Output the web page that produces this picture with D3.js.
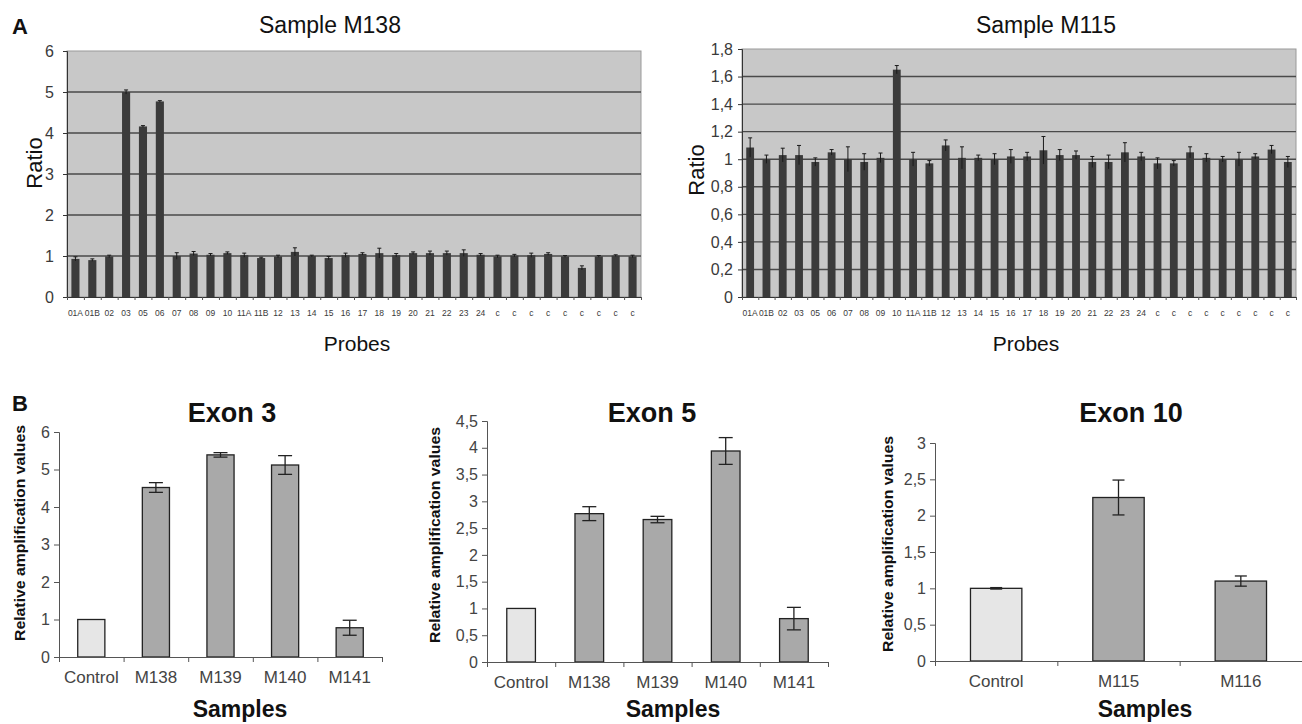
<!DOCTYPE html>
<html>
<head>
<meta charset="utf-8">
<script src="https://cdn.jsdelivr.net/npm/d3@7"></script>
<style>
  body { margin: 0; background: #fff; }
  svg { display: block; }
  text { font-family: "Liberation Sans", Arial, sans-serif; }
</style>
</head>
<body>
<div id="chart"></div>
<script>
// ---- data ----
var probes = ["01A","01B","02","03","05","06","07","08","09","10","11A","11B","12","13","14","15","16","17",
              "18","19","20","21","22","23","24","c","c","c","c","c","c","c","c","c"];

var m138Ratio = [0.93,0.90,0.99,5.00,4.16,4.77,1.00,1.06,1.03,1.07,1.02,0.95,0.99,1.10,1.00,0.95,1.02,1.05,
                 1.07,1.02,1.07,1.07,1.07,1.07,1.03,0.99,1.01,1.02,1.05,0.99,0.71,0.99,1.01,0.99];
var m138Err   = [0.05,0.03,0.03,0.05,0.02,0.02,0.08,0.05,0.03,0.03,0.05,0.02,0.03,0.10,0.02,0.04,0.05,0.03,
                 0.12,0.04,0.03,0.05,0.05,0.08,0.03,0.03,0.03,0.05,0.03,0.02,0.05,0.02,0.02,0.03];

var m115Ratio = [1.085,1.00,1.03,1.03,0.98,1.05,1.00,0.98,1.01,1.65,1.00,0.97,1.10,1.01,1.01,1.00,1.02,1.02,
                 1.065,1.03,1.03,0.98,0.98,1.05,1.02,0.97,0.97,1.05,1.01,1.00,1.00,1.02,1.07,0.98];
var m115Err   = [0.07,0.03,0.05,0.07,0.03,0.02,0.09,0.06,0.035,0.03,0.05,0.02,0.04,0.08,0.02,0.04,0.05,0.03,
                 0.10,0.04,0.03,0.04,0.05,0.07,0.03,0.04,0.02,0.04,0.03,0.02,0.05,0.02,0.03,0.04];

var exon3Samples = ["Control","M138","M139","M140","M141"];
var exon3Values  = [1.00, 4.52, 5.39, 5.12, 0.78];
var exon3Err     = [0, 0.13, 0.06, 0.25, 0.20];

var exon5Samples = ["Control","M138","M139","M140","M141"];
var exon5Values  = [1.00, 2.77, 2.66, 3.94, 0.81];
var exon5Err     = [0, 0.13, 0.06, 0.25, 0.21];

var exon10Samples = ["Control","M115","M116"];
var exon10Values  = [1.00, 2.25, 1.10];
var exon10Err     = [0.01, 0.24, 0.07];

var svg = d3.select("#chart").append("svg")
  .attr("width", 1302)
  .attr("height", 724);

var comma = function(d) { return String(d).replace(".", ","); };

// ---- panel A: probe ratio charts ----
function probeChart(o) {
  var g = svg.append("g");
  var n = o.values.length;

  var x = d3.scaleBand().domain(d3.range(n)).range([o.left, o.right]).paddingInner(0.52).paddingOuter(0.26);
  var xEdge = d3.scaleLinear().domain([0, n]).range([o.left, o.right]);
  var y = d3.scaleLinear().domain([0, o.yMax]).range([o.bottom, o.top]);

  // grey plot area
  g.append("rect")
    .attr("x", o.left).attr("y", o.top)
    .attr("width", o.right - o.left).attr("height", o.bottom - o.top)
    .attr("fill", "#c8c8c8").attr("stroke", "#9a9a9a").attr("stroke-width", 1);

  // gridlines
  g.selectAll(".grid").data(o.gridTicks).enter().append("line")
    .attr("x1", o.left).attr("x2", o.right)
    .attr("y1", d => y(d)).attr("y2", d => y(d))
    .attr("stroke", "#4a4a4a").attr("stroke-width", 1.4);

  // bars
  g.selectAll(".bar").data(o.values).enter().append("rect")
    .attr("x", (d, i) => x(i)).attr("width", x.bandwidth())
    .attr("y", d => y(d)).attr("height", d => y(0) - y(d))
    .attr("fill", "#3b3b3b");

  // error bars
  var cap = 2;
  o.values.forEach(function(v, i) {
    var cx = x(i) + x.bandwidth() / 2;
    var e = o.errs[i];
    g.append("line").attr("x1", cx).attr("x2", cx).attr("y1", y(v + e)).attr("y2", y(v - e))
      .attr("stroke", "#1a1a1a").attr("stroke-width", 1);
    g.append("line").attr("x1", cx - cap).attr("x2", cx + cap).attr("y1", y(v + e)).attr("y2", y(v + e))
      .attr("stroke", "#1a1a1a").attr("stroke-width", 1);
  });

  // y axis
  var yAxis = g.append("g").attr("transform", "translate(" + o.left + ",0)")
    .call(d3.axisLeft(y).tickValues(o.yTicks).tickFormat(comma).tickSize(4).tickPadding(o.tickPad));
  yAxis.select(".domain").attr("stroke", "#333");
  yAxis.selectAll(".tick line").attr("stroke", "#333");
  yAxis.selectAll("text").attr("font-size", o.tickFont).attr("fill", "#3a3a3a")
    .attr("font-family", o.tickFamily);

  // x axis: ticks at category boundaries, labels centered
  var xTicks = g.append("g").attr("transform", "translate(0," + o.bottom + ")")
    .call(d3.axisBottom(xEdge).tickValues(d3.range(n + 1)).tickFormat("").tickSize(3));
  xTicks.select(".domain").attr("stroke", "#333");
  xTicks.selectAll(".tick line").attr("stroke", "#555");

  var xLab = g.append("g").attr("transform", "translate(0," + o.bottom + ")")
    .call(d3.axisBottom(x).tickFormat(i => probes[i]).tickSize(0).tickPadding(13));
  xLab.select(".domain").remove();
  xLab.selectAll("text").attr("font-size", 8.5).attr("fill", "#3a3a3a");

  // titles
  g.append("text").attr("x", o.titleX).attr("y", 33).attr("text-anchor", "middle")
    .attr("font-size", 23).attr("fill", "#111").text(o.title);
  g.append("text").attr("x", o.probesX).attr("y", 351).attr("text-anchor", "middle")
    .attr("font-size", 21).attr("fill", "#111").text("Probes");
  g.append("text")
    .attr("transform", "translate(" + o.ratioX + "," + o.ratioY + ") rotate(-90)")
    .attr("text-anchor", "middle").attr("dy", "0.35em")
    .attr("font-size", 22).attr("fill", "#111").text("Ratio");
}

probeChart({
  values: m138Ratio, errs: m138Err, title: "Sample M138",
  left: 67, right: 641, top: 51, bottom: 297, yMax: 6,
  yTicks: [0,1,2,3,4,5,6], gridTicks: [1,2,3,4,5],
  tickFont: 16, tickPad: 9, tickFamily: "Liberation Sans, Arial, sans-serif",
  titleX: 330, probesX: 357, ratioX: 34, ratioY: 163
});

probeChart({
  values: m115Ratio, errs: m115Err, title: "Sample M115",
  left: 742, right: 1296, top: 49, bottom: 297, yMax: 1.8,
  yTicks: [0,0.2,0.4,0.6,0.8,1,1.2,1.4,1.6,1.8], gridTicks: [0.2,0.4,0.6,0.8,1,1.2,1.4,1.6],
  tickFont: 16, tickPad: 5, tickFamily: "Liberation Sans Narrow, Liberation Sans, Arial, sans-serif",
  titleX: 1046, probesX: 1026, ratioX: 696, ratioY: 170
});

svg.append("text").attr("x", 12).attr("y", 34).attr("font-size", 22).attr("font-weight", "bold")
  .attr("fill", "#111").text("A");

// ---- panel B: exon amplification charts ----
function exonChart(o) {
  var g = svg.append("g");

  var x = d3.scaleBand().domain(o.samples).range([o.left, o.right]).paddingInner(0.58).paddingOuter(0.29);
  var xEdge = d3.scaleLinear().domain([0, o.samples.length]).range([o.left, o.right]);
  var y = d3.scaleLinear().domain([0, o.yMax]).range([o.bottom, o.top]);

  g.selectAll(".bar").data(o.values).enter().append("rect")
    .attr("x", (d, i) => x(o.samples[i])).attr("width", x.bandwidth())
    .attr("y", d => y(d)).attr("height", d => y(0) - y(d))
    .attr("fill", (d, i) => i === 0 ? "#e6e6e6" : "#a9a9a9")
    .attr("stroke", "#222").attr("stroke-width", 1.3);

  o.values.forEach(function(v, i) {
    var e = o.errs[i];
    if (!e) return;
    var cx = x(o.samples[i]) + x.bandwidth() / 2;
    g.append("line").attr("x1", cx).attr("x2", cx).attr("y1", y(v + e)).attr("y2", y(v - e))
      .attr("stroke", "#222").attr("stroke-width", 1.3);
    [v + e, v - e].forEach(function(t) {
      g.append("line").attr("x1", cx - o.cap).attr("x2", cx + o.cap).attr("y1", y(t)).attr("y2", y(t))
        .attr("stroke", "#222").attr("stroke-width", 1.3);
    });
  });

  var yAxis = g.append("g").attr("transform", "translate(" + o.left + ",0)")
    .call(d3.axisLeft(y).tickValues(o.yTicks).tickFormat(comma).tickSize(5).tickPadding(4));
  yAxis.select(".domain").attr("stroke", "#555");
  yAxis.selectAll(".tick line").attr("stroke", "#555");
  yAxis.selectAll("text").attr("font-size", 16).attr("fill", "#444");

  var xTicks = g.append("g").attr("transform", "translate(0," + o.bottom + ")")
    .call(d3.axisBottom(xEdge).tickValues(d3.range(o.samples.length + 1)).tickFormat("").tickSize(5));
  xTicks.select(".domain").attr("stroke", "#555");
  xTicks.selectAll(".tick line").attr("stroke", "#555");

  var xLab = g.append("g").attr("transform", "translate(0," + o.bottom + ")")
    .call(d3.axisBottom(x).tickSize(0).tickPadding(14));
  xLab.select(".domain").remove();
  xLab.selectAll("text").attr("font-size", 17).attr("fill", "#444");

  g.append("text").attr("x", o.titleX).attr("y", 422).attr("text-anchor", "middle")
    .attr("font-size", 27).attr("font-weight", "bold").attr("fill", "#111").text(o.title);
  g.append("text").attr("x", o.samplesX).attr("y", 717).attr("text-anchor", "middle")
    .attr("font-size", 23).attr("font-weight", "bold").attr("fill", "#111").text("Samples");
  g.append("text")
    .attr("transform", "translate(" + o.labelX + "," + o.labelY + ") rotate(-90)")
    .attr("text-anchor", "middle").attr("dy", "0.35em")
    .attr("font-size", 15).attr("font-weight", "bold").attr("fill", "#111")
    .attr("textLength", 216).attr("lengthAdjust", "spacingAndGlyphs")
    .text("Relative amplification values");
}

exonChart({
  samples: exon3Samples, values: exon3Values, errs: exon3Err, title: "Exon 3",
  left: 59, right: 382, top: 432, bottom: 657, yMax: 6, yTicks: [0,1,2,3,4,5,6],
  cap: 7, titleX: 232, samplesX: 240, labelX: 20, labelY: 533
});

exonChart({
  samples: exon5Samples, values: exon5Values, errs: exon5Err, title: "Exon 5",
  left: 487, right: 828, top: 421, bottom: 662, yMax: 4.5,
  yTicks: [0,0.5,1,1.5,2,2.5,3,3.5,4,4.5],
  cap: 7, titleX: 652, samplesX: 673, labelX: 435, labelY: 535
});

exonChart({
  samples: exon10Samples, values: exon10Values, errs: exon10Err, title: "Exon 10",
  left: 935, right: 1302, top: 443, bottom: 661, yMax: 3,
  yTicks: [0,0.5,1,1.5,2,2.5,3],
  cap: 6, titleX: 1131, samplesX: 1145, labelX: 888, labelY: 544
});

svg.append("text").attr("x", 12).attr("y", 411).attr("font-size", 22).attr("font-weight", "bold")
  .attr("fill", "#111").text("B");
</script>
</body>
</html>
